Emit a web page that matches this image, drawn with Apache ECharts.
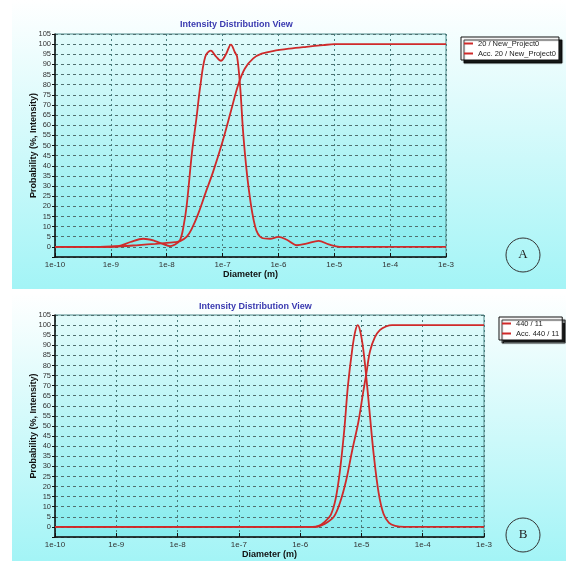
<!DOCTYPE html>
<html>
<head>
<meta charset="utf-8">
<script src="https://cdn.jsdelivr.net/npm/echarts@6/dist/echarts.min.js"></script>
<style>html,body{margin:0;padding:0;background:#fff;}#c{width:566px;height:564px;}</style>
</head>
<body>
<div id="c"></div>
<script>
// ---- Data (diameters stored as log10 exponents, values in %) ----
const yTicks = [0,5,10,15,20,25,30,35,40,45,50,55,60,65,70,75,80,85,90,95,100,105];
const xTickLabels = ['1e-10','1e-9','1e-8','1e-7','1e-6','1e-5','1e-4','1e-3'];

const namesA = ['20 / New_Project0', 'Acc. 20 / New_Project0'];
const namesB = ['440 / 11', 'Acc. 440 / 11'];

const logDiamIntA = [-10, -9.2, -8.87, -8.65, -8.42, -8.22, -8.05, -7.94, -7.85, -7.76, -7.7, -7.64, -7.55, -7.47, -7.4, -7.31, -7.21, -7.12, -7.03, -6.94, -6.85, -6.78, -6.74, -6.685, -6.625, -6.536, -6.416, -6.3, -6.15, -6.0, -5.85, -5.67, -5.5, -5.28, -5.1, -4.9, -3];
const intensityA  = [0, 0, 0.3, 2.4, 4.0, 3.0, 1.2, 0.4, 1.2, 3.5, 10, 21, 46, 63, 79, 93.8, 96.8, 94, 91.8, 95, 99.8, 96, 93.8, 79, 54, 29.6, 9.9, 4.5, 4.0, 4.9, 3.5, 0.8, 1.6, 3.0, 1.2, 0, 0];

const logDiamAccA = [-10, -9.2, -8.8, -8.5, -8.2, -8.0, -7.85, -7.76, -7.64, -7.55, -7.44, -7.3, -7.17, -7.0, -6.85, -6.72, -6.6, -6.45, -6.3, -6.1, -5.8, -5.5, -5.2, -5.0, -3];
const accA        = [0, 0, 0.3, 0.9, 1.5, 2, 2.3, 2.8, 5, 9, 16, 27, 37, 52, 67, 80, 88, 93, 95.3, 96.6, 97.8, 98.7, 99.5, 100, 100];

const logDiamIntB = [-10, -5.8, -5.7, -5.6, -5.5, -5.42, -5.35, -5.28, -5.22, -5.15, -5.1, -5.06, -5.02, -4.97, -4.92, -4.87, -4.8, -4.72, -4.64, -4.55, -4.45, -4.3, -3];
const intensityB  = [0, 0, 0.5, 2.5, 6, 14, 28, 48, 70, 88, 97, 100, 97, 88, 74, 58, 36, 17, 6.5, 2, 0.5, 0, 0];

const logDiamAccB = [-10, -5.75, -5.6, -5.45, -5.35, -5.25, -5.15, -5.05, -4.97, -4.92, -4.86, -4.78, -4.7, -4.6, -4.5, -3];
const accB        = [0, 0, 1.5, 5, 12, 23, 38, 52, 67, 76, 87, 94, 97.5, 99.3, 100, 100];

// ---- helpers ----
const toPairs = (lx, v) => lx.map((e, i) => [Math.pow(10, e), v[i]]);
const minorValues = [];
for (let n = -10; n < -3; n++) for (let m = 2; m <= 9; m++) minorValues.push(m * Math.pow(10, n));

const RED = '#cf2a2a';
const TXT = '#333';

function xAxisCfg(gi) {
  return {
    type: 'log', gridIndex: gi, min: 1e-10, max: 1e-3, logBase: 10,
    name: 'Diameter (m)', nameLocation: 'middle', nameGap: 11,
    nameTextStyle: {fontFamily: 'Liberation Sans', fontWeight: 'bold', fontSize: 9, color: '#111'},
    axisLine: {onZero: false, lineStyle: {color: '#111', width: 1.5}},
    axisTick: {inside: true, length: 4, lineStyle: {color: '#111'}},
    axisLabel: {margin: 4, fontFamily: 'Liberation Sans', fontSize: 8, color: TXT,
      formatter: v => { const e = Math.round(Math.log10(v)); return xTickLabels[e + 10]; }},
    splitLine: {show: true, lineStyle: {color: '#4a7e7e', type: [2, 3], width: 1}}
  };
}
function yAxisCfg(gi) {
  return {
    type: 'value', gridIndex: gi, min: -5, max: 105, interval: 5,
    name: 'Probability (%, Intensity)', nameLocation: 'middle', nameGap: 17, nameMoveOverlap: false,
    nameTextStyle: {fontFamily: 'Liberation Sans', fontWeight: 'bold', fontSize: 9, color: '#111'},
    axisLine: {show: true, onZero: false, lineStyle: {color: '#111', width: 1.5}},
    axisTick: {show: true, length: 3, lineStyle: {color: '#111'}},
    axisLabel: {margin: 4, fontFamily: 'Liberation Sans', fontSize: 7.5, color: TXT,
      formatter: v => (yTicks.indexOf(v) >= 0 ? String(v) : '')},
    splitLine: {show: true, lineStyle: {color: '#4f7070', type: [3, 3], width: 1}}
  };
}
function minorMarkLine() {
  return {silent: true, symbol: ['none', 'none'], label: {show: false}, animation: false,
    lineStyle: {color: '#70b4b0', type: 'solid', width: 1, opacity: 0.85},
    emphasis: {disabled: true},
    data: minorValues.map(v => ({xAxis: v}))};
}
function lineSeries(name, gi, data, withMinor) {
  const s = {
    type: 'line', name: name, xAxisIndex: gi, yAxisIndex: gi, data: data,
    smooth: 0.35, showSymbol: false, symbol: 'none',
    lineStyle: {color: RED, width: 1.8}, itemStyle: {color: RED}, z: 5
  };
  if (withMinor) s.markLine = minorMarkLine();
  return s;
}
const plotBg = {type: 'linear', x: 0, y: 0, x2: 0, y2: 1,
  colorStops: [{offset: 0, color: '#e2fbfb'}, {offset: 1, color: '#86ecee'}]};
const panelBg = {type: 'linear', x: 0, y: 0, x2: 0, y2: 1,
  colorStops: [{offset: 0, color: '#ffffff'}, {offset: 1, color: '#a3f4f6'}]};

const legendCommon = {
  orient: 'vertical', icon: 'rect', itemWidth: 9, itemHeight: 2, itemGap: 1,
  padding: [2, 3, 2, 3], backgroundColor: '#fff', borderColor: '#111', borderWidth: 1,
  shadowColor: 'rgba(0,0,0,0.9)', shadowOffsetX: 3, shadowOffsetY: 3, shadowBlur: 1,
  textStyle: {fontFamily: 'Liberation Sans', fontSize: 7.5, color: '#222', lineHeight: 9},
  selectedMode: false
};

const chart = echarts.init(document.getElementById('c'), null, {renderer: 'canvas'});
chart.setOption({
  animation: false,
  backgroundColor: '#fff',
  title: [
    {text: 'Intensity Distribution View', left: 175, top: 15,
     textStyle: {fontFamily: 'Liberation Sans', fontWeight: 'bold', fontSize: 9, color: '#3a3ab0'}},
    {text: 'Intensity Distribution View', left: 194, top: 297,
     textStyle: {fontFamily: 'Liberation Sans', fontWeight: 'bold', fontSize: 9, color: '#3a3ab0'}}
  ],
  legend: [
    Object.assign({}, legendCommon, {left: 461, top: 37, data: namesA}),
    Object.assign({}, legendCommon, {left: 499, top: 317, data: namesB})
  ],
  grid: [
    {left: 55, top: 34, right: 120, bottom: 307, show: true, backgroundColor: plotBg, borderColor: '#4f8a8a', borderWidth: 1},
    {left: 55, top: 315, right: 82, bottom: 27, show: true, backgroundColor: plotBg, borderColor: '#4f8a8a', borderWidth: 1}
  ],
  xAxis: [xAxisCfg(0), xAxisCfg(1)],
  yAxis: [yAxisCfg(0), yAxisCfg(1)],
  series: [
    lineSeries(namesA[0], 0, toPairs(logDiamIntA, intensityA), true),
    lineSeries(namesA[1], 0, toPairs(logDiamAccA, accA), false),
    lineSeries(namesB[0], 1, toPairs(logDiamIntB, intensityB), true),
    lineSeries(namesB[1], 1, toPairs(logDiamAccB, accB), false)
  ],
  graphic: [
    {type: 'rect', z: -10, silent: true, shape: {x: 12, y: 0, width: 554, height: 289}, style: {fill: panelBg}},
    {type: 'rect', z: -10, silent: true, shape: {x: 12, y: 293, width: 554, height: 268}, style: {fill: panelBg}},
    {type: 'circle', z: 10, silent: true, shape: {cx: 523, cy: 255, r: 17}, style: {fill: 'none', stroke: '#333', lineWidth: 1}},
    {type: 'text', z: 10, silent: true, x: 523, y: 255, style: {text: 'A', font: '13px "Liberation Serif"', fill: '#222', textAlign: 'center', textVerticalAlign: 'middle'}},
    {type: 'circle', z: 10, silent: true, shape: {cx: 523, cy: 535, r: 17}, style: {fill: 'none', stroke: '#333', lineWidth: 1}},
    {type: 'text', z: 10, silent: true, x: 523, y: 535, style: {text: 'B', font: '13px "Liberation Serif"', fill: '#222', textAlign: 'center', textVerticalAlign: 'middle'}}
  ]
});
</script>
</body>
</html>
